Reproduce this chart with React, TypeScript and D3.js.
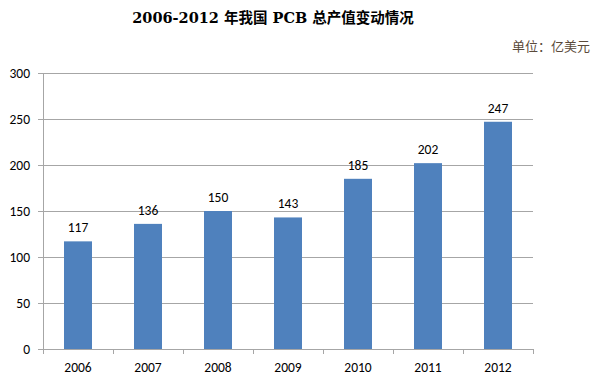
import React from "react";
import * as d3 from "d3";

const years = ["2006", "2007", "2008", "2009", "2010", "2011", "2012"];
const values = [117, 136, 150, 143, 185, 202, 247];
const yTicks = [0, 50, 100, 150, 200, 250, 300];
const title = "2006-2012 年我国 PCB 总产值变动情况";
const unit = "单位：亿美元";

export default function App() {
  const W = 592, H = 377;
  const left = 43, right = 533, top = 73, bottom = 349;
  const x = d3.scaleBand<string>().domain(years).range([left, right]).paddingInner(0.6).paddingOuter(0.3);
  const band = d3.scaleBand<string>().domain(years).range([left, right]);
  const y = d3.scaleLinear().domain([0, 300]).range([bottom, top]);
  const font = "Carlito, 'Open Sans', 'Liberation Sans', sans-serif";
  return (
    <svg width={W} height={H} style={{ position: "absolute", left: 0, top: 0, background: "#fff" }}>
      <text x={273} y={23} textAnchor="middle" fontFamily="'DejaVu Serif', 'Noto Sans CJK SC', serif" fontSize={14.5} fontWeight="bold" fill="#000">{title}</text>
      <text x={590} y={51} textAnchor="end" fontFamily="'Noto Sans CJK SC', serif" fontSize={13} fill="#5a4a3a">{unit}</text>
      {yTicks.map((t) => (
        <g key={t}>
          <line x1={left - 5} x2={t === 0 ? left : right} y1={Math.round(y(t)) + 0.5} y2={Math.round(y(t)) + 0.5} stroke="#a6a6a6" strokeWidth={1} />
          <text x={30} y={y(t) + 5} textAnchor="end" fontFamily={font} fontSize={13.5} fill="#000">{t}</text>
        </g>
      ))}
      <line x1={left + 0.5} x2={left + 0.5} y1={top} y2={bottom} stroke="#a6a6a6" />
      <line x1={left} x2={right} y1={bottom + 0.5} y2={bottom + 0.5} stroke="#a6a6a6" />
      {years.map((yr) => (
        <line key={"t" + yr} x1={Math.round(band(yr)! + band.bandwidth()) + 0.5} x2={Math.round(band(yr)! + band.bandwidth()) + 0.5} y1={bottom} y2={bottom + 5} stroke="#a6a6a6" />
      ))}
      <line x1={left + 0.5} x2={left + 0.5} y1={bottom} y2={bottom + 5} stroke="#a6a6a6" />
      {years.map((yr, i) => (
        <g key={yr}>
          <rect x={x(yr)} y={y(values[i])} width={x.bandwidth()} height={bottom - y(values[i])} fill="#4F81BD" />
          <text x={x(yr)! + x.bandwidth() / 2} y={y(values[i]) - 9} textAnchor="middle" fontFamily={font} fontSize={13.5} fill="#000">{values[i]}</text>
          <text x={band(yr)! + band.bandwidth() / 2} y={372} textAnchor="middle" fontFamily={font} fontSize={13.5} fill="#000">{yr}</text>
        </g>
      ))}
    </svg>
  );
}
